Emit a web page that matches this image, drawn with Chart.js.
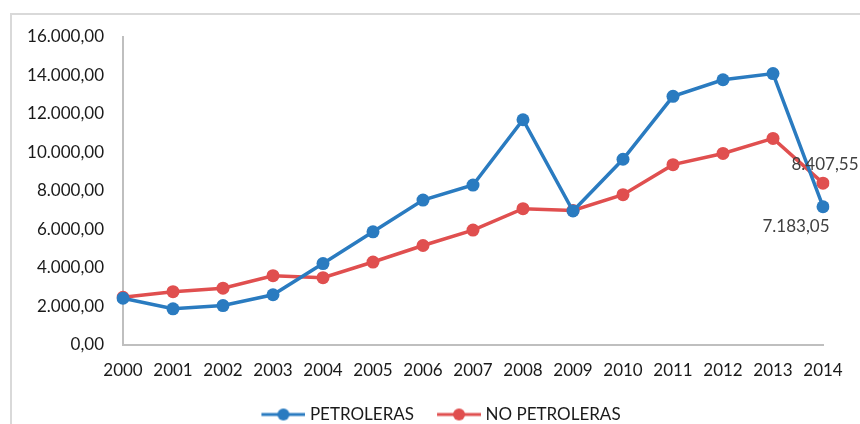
<!DOCTYPE html>
<html>
<head>
<meta charset="utf-8">
<script src="https://cdn.jsdelivr.net/npm/chart.js@4/dist/chart.umd.min.js"></script>
<style>
  html, body { margin: 0; padding: 0; background: #fff; overflow: hidden; }
  #wrap { position: relative; width: 860px; height: 424px; }
</style>
</head>
<body>
<div id="wrap"><canvas id="chart" width="860" height="424"></canvas></div>
<script>
const years = ["2000", "2001", "2002", "2003", "2004", "2005", "2006", "2007",
  "2008", "2009", "2010", "2011", "2012", "2013", "2014"];
const petroleras = [2430, 1880, 2050, 2610, 4230, 5880, 7530, 8310,
  11700, 6960, 9650, 12920, 13780, 14100, 7183.05];
const noPetroleras = [2480, 2770, 2950, 3600, 3500, 4310, 5170, 5970,
  7080, 6990, 7810, 9370, 9950, 10730, 8407.55];

const BLUE = "#2a7bc0";
const RED = "#e04f4f";
const FONT = "Lato, 'Open Sans', sans-serif";

// number format like 16.000,00
const fmt = (v) => v.toLocaleString("de-DE", { minimumFractionDigits: 2, maximumFractionDigits: 2 });

// legend symbol: line with a dot, blank space on the left acts as item gap
function legendSymbol(color) {
  const c = document.createElement("canvas");
  c.width = 61;
  c.height = 14;
  const g = c.getContext("2d");
  g.strokeStyle = color;
  g.lineWidth = 3;
  g.beginPath();
  g.moveTo(17, 7);
  g.lineTo(61, 7);
  g.stroke();
  g.fillStyle = color;
  g.beginPath();
  g.arc(39, 7, 6, 0, Math.PI * 2);
  g.fill();
  return c;
}

// outer light frame of the chart box
const framePlugin = {
  id: "frame",
  beforeDraw(chart) {
    const ctx = chart.ctx;
    ctx.save();
    ctx.strokeStyle = "#d9d9d9";
    ctx.lineWidth = 2;
    ctx.strokeRect(11, 14, 900, 460);
    ctx.restore();
  },
};

// labels on the last point of each series
const lastLabelPlugin = {
  id: "lastLabel",
  afterDatasetsDraw(chart) {
    const ctx = chart.ctx;
    ctx.save();
    ctx.font = "17px " + FONT;
    ctx.fillStyle = "#404040";
    ctx.textAlign = "center";
    ctx.textBaseline = "middle";
    chart.data.datasets.forEach((ds, i) => {
      const meta = chart.getDatasetMeta(i);
      const last = ds.data.length - 1;
      const pt = meta.data[last];
      const txt = fmt(ds.data[last]);
      if (i === 1) ctx.fillText(txt, pt.x + 2, pt.y - 19);
      else ctx.fillText(txt, pt.x - 27, pt.y + 20);
    });
    ctx.restore();
  },
};

const ctx = document.getElementById("chart").getContext("2d");
new Chart(ctx, {
  type: "line",
  data: {
    labels: years,
    datasets: [
      {
        label: "PETROLERAS",
        data: petroleras,
        borderColor: BLUE,
        backgroundColor: BLUE,
        borderWidth: 3.5,
        pointRadius: 6.5,
        pointBorderWidth: 0,
        tension: 0,
        fill: false,
      },
      {
        label: "NO PETROLERAS",
        data: noPetroleras,
        borderColor: RED,
        backgroundColor: RED,
        borderWidth: 3.5,
        pointRadius: 6.5,
        pointBorderWidth: 0,
        tension: 0,
        fill: false,
      },
    ],
  },
  options: {
    responsive: false,
    animation: false,
    layout: { padding: { left: 9, right: 0, top: 37, bottom: -9 } },
    plugins: {
      tooltip: { enabled: false },
      legend: {
        position: "bottom",
        labels: {
          color: "#1a1a1a",
          font: { family: FONT, size: 17 },
          usePointStyle: true,
          pointStyleWidth: 53,
          padding: 10,
          generateLabels(chart) {
            return chart.data.datasets.map((ds, i) => ({
              text: ds.label,
              pointStyle: legendSymbol(ds.borderColor),
              fillStyle: ds.borderColor,
              strokeStyle: ds.borderColor,
              lineWidth: 0,
              datasetIndex: i,
              fontColor: "#1a1a1a",
            }));
          },
        },
      },
    },
    scales: {
      x: {
        offset: false,
        grid: { display: false, drawTicks: false },
        border: { display: true, color: "#bfbfbf", width: 2 },
        ticks: {
          color: "#1a1a1a",
          font: { family: FONT, size: 17 },
          padding: 15,
          maxRotation: 0,
          autoSkip: false,
        },
        afterFit(scale) { scale.height = 51; },
      },
      y: {
        min: 0,
        max: 16000,
        grid: { display: false, drawTicks: false },
        border: { display: true, color: "#bfbfbf", width: 2 },
        ticks: {
          stepSize: 2000,
          color: "#1a1a1a",
          font: { family: FONT, size: 17 },
          padding: 19,
          callback: (v) => fmt(v),
        },
        afterFit(scale) { scale.width = 114; },
      },
      // empty right-hand spacer so the legend stays centred on the whole box
      spacer: {
        position: "right",
        grid: { display: false, drawTicks: false },
        border: { display: false },
        ticks: { display: false },
        afterFit(scale) { scale.width = 37; },
      },
    },
  },
  plugins: [framePlugin, lastLabelPlugin],
});
</script>
</body>
</html>
